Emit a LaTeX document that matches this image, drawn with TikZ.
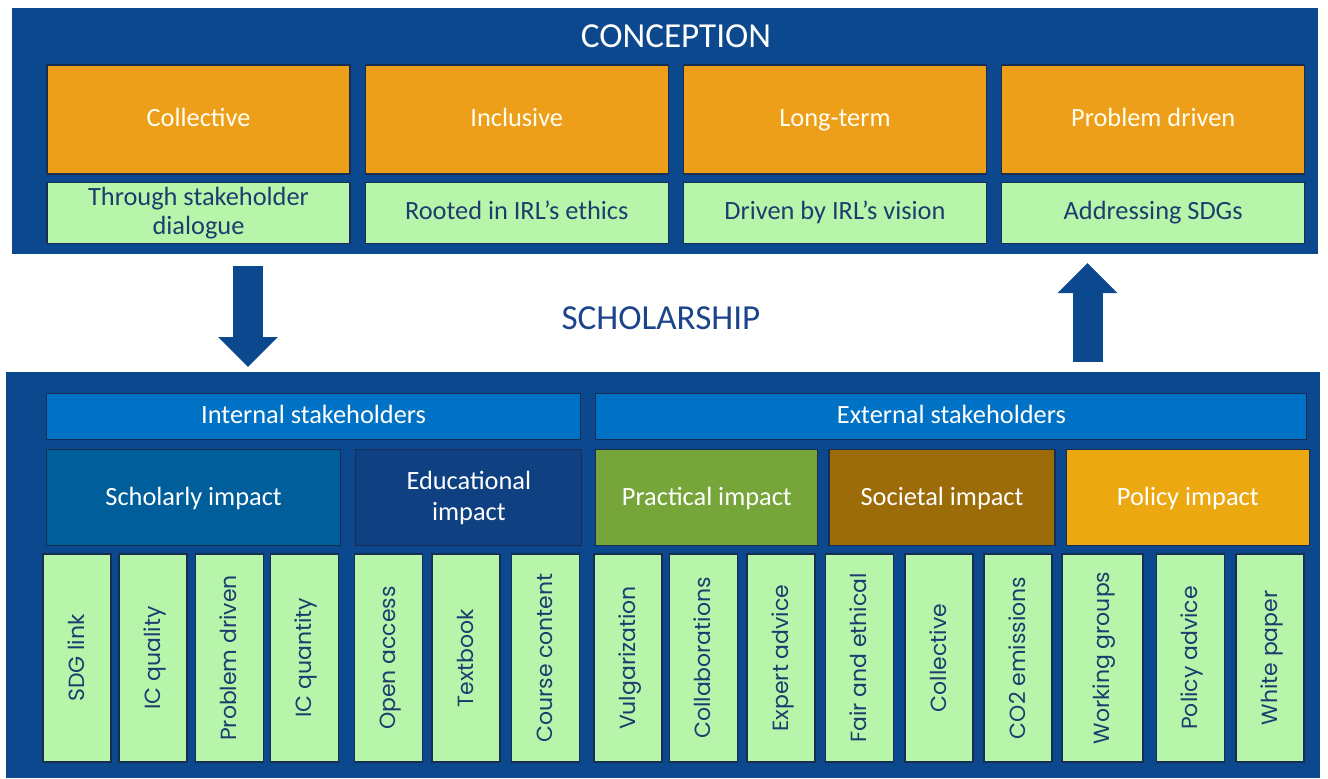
\documentclass[tikz,border=0pt]{standalone}
\usepackage{fontspec}
\setmainfont{Carlito}
\newfontfamily\poppins{Poppins}
\usetikzlibrary{arrows.meta,positioning}
\definecolor{panelblue}{RGB}{12,72,142}
\definecolor{titleblue}{RGB}{28,68,138}
\definecolor{boxline}{RGB}{25,45,80}
\definecolor{principleorange}{RGB}{238,159,26}
\definecolor{meansgreen}{RGB}{183,246,170}
\definecolor{meanstext}{RGB}{30,60,110}
\definecolor{stakeblue}{RGB}{0,114,198}
\definecolor{scholarlyblue}{RGB}{0,94,155}
\definecolor{edublue}{RGB}{14,64,130}
\definecolor{practicalgreen}{RGB}{118,165,58}
\definecolor{societalbrown}{RGB}{155,108,8}
\definecolor{policyyellow}{RGB}{236,168,16}
\tikzset{%
  % Specifications for style of nodes:
           base/.style = {rectangle, draw=boxline, line width=0.7pt,
                          text centered, align=center, inner sep=1pt},
        oneline/.style = {text height=0.86em, text depth=0.04em},
          panel/.style = {rectangle, fill=panelblue, inner sep=0pt, outer sep=0pt},
       boxtitle/.style = {font=\fontsize{20}{24}\selectfont},
      principle/.style = {base, oneline, fill=principleorange, text=white!95!yellow,
                          minimum width=6.06cm, minimum height=2.18cm,
                          font=\fontsize{15}{18}\selectfont},
          means/.style = {base, fill=meansgreen, text=meanstext,
                          minimum width=6.06cm, minimum height=1.22cm,
                          font=\fontsize{15}{16.5}\selectfont},
    stakeholder/.style = {base, oneline, fill=stakeblue, text=white, minimum height=0.92cm,
                          font=\fontsize{15}{18}\selectfont},
         impact/.style = {base, text=white, minimum height=1.92cm,
                          font=\fontsize{15}{17.5}\selectfont},
         metric/.style = {base, oneline, fill=meansgreen, text=meanstext, rotate=90,
                          minimum width=4.16cm, minimum height=1.36cm,
                          font=\poppins\fontsize{12.5}{15}\selectfont},
       bigarrow/.style = {draw=panelblue, line width=0.6cm,
                          -{Triangle[width=1.16cm,length=0.6cm]}},
}

\begin{document}
\begin{tikzpicture}
  \useasboundingbox (0,0) rectangle (26.56,-15.56);
  % Panels and their titles
  \node (conception)  [panel, minimum width=26.12cm, minimum height=4.92cm] at (13.30,-2.62) {};
  \node (scholarship) [panel, minimum width=26.28cm, minimum height=8.12cm] at (13.26,-11.50) {};
  \node (conceptionTitle)  [boxtitle, text=white] at (13.52,-0.72) {CONCEPTION};
  \node (scholarshipTitle) [boxtitle, text=titleblue] at (13.22,-6.36) {SCHOLARSHIP};
  % Conception: principles and how they are met
  \node (collective) [principle] at (3.97,-2.39) {Collective};
  \node (inclusive)  [principle, right=0.28cm of collective] {Inclusive};
  \node (longTerm)   [principle, right=0.28cm of inclusive]  {Long-term};
  \node (problem)    [principle, right=0.28cm of longTerm]   {Problem driven};
  \node (dialogue)   [means, below=0.14cm of collective] {Through stakeholder\\dialogue};
  \node (ethics)     [means, oneline, below=0.14cm of inclusive]  {Rooted in IRL’s ethics};
  \node (vision)     [means, oneline, below=0.14cm of longTerm]   {Driven by IRL’s vision};
  \node (sdgs)       [means, oneline, below=0.14cm of problem]    {Addressing SDGs};
  % Scholarship: stakeholders and impacts
  \node (internal) [stakeholder, minimum width=10.68cm, anchor=north west] at (0.92,-7.86) {Internal stakeholders};
  \node (external) [stakeholder, minimum width=14.22cm, right=0.28cm of internal] {External stakeholders};
  \node (scholarly)   [impact, oneline, fill=scholarlyblue, minimum width=5.88cm, anchor=north west] at ([yshift=-0.18cm]internal.south west) {Scholarly impact};
  \node (educational) [impact, fill=edublue, minimum width=4.52cm, right=0.28cm of scholarly] {Educational\\impact};
  \node (practical)   [impact, oneline, fill=practicalgreen, minimum width=4.44cm, anchor=north west] at ([yshift=-0.18cm]external.south west) {Practical impact};
  \node (societal)    [impact, oneline, fill=societalbrown, minimum width=4.52cm, right=0.2cm of practical] {Societal impact};
  \node (policy)      [impact, oneline, fill=policyyellow, minimum width=4.86cm, right=0.2cm of societal] {Policy impact};
  % Indicators
  \node (sdgLink)        [metric] at (1.54,-13.16)  {SDG link};
  \node (icQuality)      [metric] at (3.06,-13.16)  {IC quality};
  \node (problemDriven)  [metric] at (4.59,-13.16)  {Problem driven};
  \node (icQuantity)     [metric] at (6.09,-13.16)  {IC quantity};
  \node (openAccess)     [metric] at (7.77,-13.16)  {Open access};
  \node (textbook)       [metric] at (9.32,-13.16)  {Textbook};
  \node (courseContent)  [metric] at (10.91,-13.16) {Course content};
  \node (vulgarization)  [metric] at (12.56,-13.16) {Vulgarization};
  \node (collaborations) [metric] at (14.07,-13.16) {Collaborations};
  \node (expertAdvice)   [metric] at (15.62,-13.16) {Expert advice};
  \node (fairEthical)    [metric] at (17.19,-13.16) {Fair and ethical};
  \node (collectiveInd)  [metric] at (18.78,-13.16) {Collective};
  \node (emissions)      [metric] at (20.36,-13.16) {CO2 emissions};
  \node (workingGroups)  [metric, minimum height=1.62cm] at (22.05,-13.16) {Working groups};
  \node (policyAdvice)   [metric] at (23.81,-13.16) {Policy advice};
  \node (whitePaper)     [metric] at (25.40,-13.16) {White paper};
  % Arrows between the two panels
  \coordinate (downX) at (4.96,0);
  \coordinate (upX) at (21.75,0);
  \draw[bigarrow, shorten <=0.24cm, shorten >=0.1cm] (conception.south -| downX) -- (scholarship.north -| downX);
  \draw[bigarrow, shorten <=0.2cm, shorten >=0.18cm] (scholarship.north -| upX) -- (conception.south -| upX);
\end{tikzpicture}
\end{document}
